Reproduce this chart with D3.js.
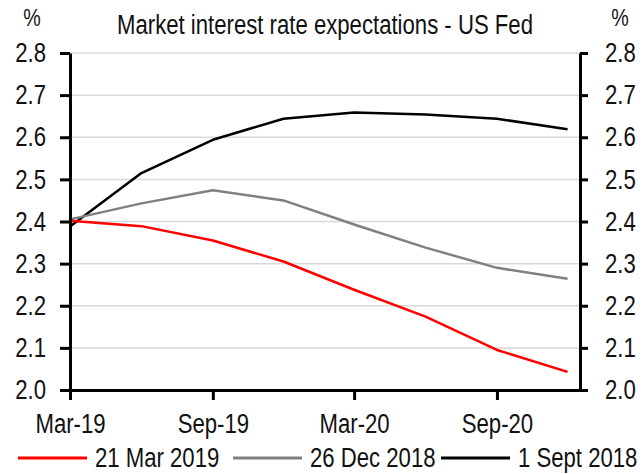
<!DOCTYPE html>
<html>
<head>
<meta charset="utf-8">
<script src="https://cdn.jsdelivr.net/npm/d3@7"></script>
<style>
  body { margin: 0; background: #fff; }
  text { font-family: "Liberation Sans", Arial, sans-serif; fill: #111; }
</style>
</head>
<body>
<div class="chart"></div>
<script>
// quarterly points of each expectations curve
var months = ["2019-03", "2019-06", "2019-09", "2019-12", "2020-03", "2020-06", "2020-09", "2020-12"];
var mar2019 = [2.402, 2.389, 2.355, 2.305, 2.238, 2.174, 2.095, 2.043];
var dec2018 = [2.405, 2.443, 2.474, 2.450, 2.393, 2.338, 2.290, 2.264];
var sep2018 = [2.388, 2.515, 2.594, 2.644, 2.659, 2.654, 2.644, 2.619];

var seriesNames = ["21 Mar 2019", "26 Dec 2018", "1 Sept 2018"];
var seriesColors = ["#ff0000", "#808080", "#000000"];
var xTickLabels = ["2019-03", "2019-09", "2020-03", "2020-09"];
var yTicks = [2.0, 2.1, 2.2, 2.3, 2.4, 2.5, 2.6, 2.7, 2.8];

var svgWidth = 644, svgHeight = 474;
var margin = {top: 53, right: 64, bottom: 84, left: 70};
var width = svgWidth - margin.left - margin.right,
    height = svgHeight - margin.top - margin.bottom;

var parseMonth = d3.timeParse("%Y-%m");
var fmt = d3.timeFormat("%b-%y");

var svg = d3.select(".chart")
    .append("svg")
    .attr("width", svgWidth)
    .attr("height", svgHeight);

var chart = svg.append("g")
    .attr("transform", "translate(" + margin.left + "," + margin.top + ")");

var x = d3.scaleTime()
    .domain([parseMonth("2019-03"), new Date(2020, 11, 17)])
    .range([0, width]);
var y = d3.scaleLinear().domain([2.0, 2.8]).range([height, 0]);

// gridlines
chart.selectAll(".grid")
    .data(yTicks.slice(1))
    .enter().append("line")
    .attr("x1", 0)
    .attr("x2", width)
    .attr("y1", function(d) { return y(d); })
    .attr("y2", function(d) { return y(d); })
    .attr("stroke", "#d9d9d9")
    .attr("stroke-width", 1.5);

var seriesData = [mar2019, dec2018, sep2018].map(function(vals, i) {
    return {
        name: seriesNames[i],
        color: seriesColors[i],
        values: vals.map(function(v, j) { return {date: parseMonth(months[j]), value: v}; })
    };
});

var line = d3.line()
    .x(function(d) { return x(d.date); })
    .y(function(d) { return y(d.value); });

// draw black first so red stays on top
chart.selectAll(".series")
    .data(seriesData.slice().reverse())
    .enter().append("path")
    .attr("fill", "none")
    .attr("stroke", function(d) { return d.color; })
    .attr("stroke-width", 2.5)
    .attr("stroke-linejoin", "round")
    .attr("d", function(d) { return line(d.values); });

function styleAxis(g) {
    g.select(".domain").attr("stroke", "#000").attr("stroke-width", 3);
    g.selectAll(".tick line").attr("stroke", "#000").attr("stroke-width", 3);
    g.selectAll(".tick text").style("font-size", "27px").attr("fill", "#111");
}

chart.append("g")
    .call(d3.axisLeft(y).tickValues(yTicks).tickFormat(d3.format(".1f"))
        .tickSize(10).tickSizeOuter(0).tickPadding(14))
    .call(styleAxis);

chart.append("g")
    .attr("transform", "translate(" + width + ",0)")
    .call(d3.axisRight(y).tickValues(yTicks).tickFormat(d3.format(".1f"))
        .tickSize(8).tickSizeOuter(0).tickPadding(17))
    .call(styleAxis);

chart.append("g")
    .attr("transform", "translate(0," + height + ")")
    .call(d3.axisBottom(x).tickValues(xTickLabels.map(parseMonth)).tickFormat(fmt)
        .tickSize(10).tickSizeOuter(0).tickPadding(14))
    .call(styleAxis);

// title and unit labels
svg.append("text")
    .attr("x", 325).attr("y", 34)
    .attr("text-anchor", "middle")
    .style("font-size", "27px")
    .text("Market interest rate expectations - US Fed");

svg.append("text")
    .attr("x", 32).attr("y", 26)
    .attr("text-anchor", "middle")
    .style("font-size", "24px")
    .text("%");

svg.append("text")
    .attr("x", 620).attr("y", 26)
    .attr("text-anchor", "middle")
    .style("font-size", "24px")
    .text("%");

// legend
var legendX = [18, 233, 441];
var legend = svg.selectAll(".legend")
    .data(seriesData)
    .enter().append("g")
    .attr("transform", function(d, i) { return "translate(" + legendX[i] + ",458)"; });

legend.append("line")
    .attr("x1", 0).attr("x2", 69)
    .attr("stroke", function(d) { return d.color; })
    .attr("stroke-width", 3);

legend.append("text")
    .attr("x", 77).attr("y", 9)
    .style("font-size", "27px")
    .text(function(d) { return d.name; });

// the original uses a narrow face, squeeze every label to ~82% width
svg.selectAll("text").each(function() {
    var w = this.getComputedTextLength();
    d3.select(this)
        .attr("textLength", w * 0.82)
        .attr("lengthAdjust", "spacingAndGlyphs");
});
</script>
</body>
</html>
